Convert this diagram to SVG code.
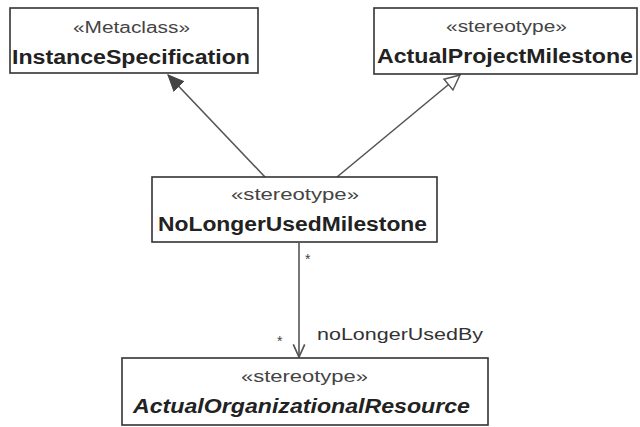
<svg xmlns="http://www.w3.org/2000/svg" width="640" height="427" viewBox="0 0 640 427">
<style>
.box{fill:#fff;stroke:#333;stroke-width:1.6}
.st{font-family:"Liberation Sans",Arial,sans-serif;font-size:16px;fill:#444;text-anchor:start}
.nm{font-family:"Liberation Sans",Arial,sans-serif;font-size:20px;font-weight:bold;fill:#222}
.it{font-style:italic}
.ln{stroke:#555;stroke-width:1.6;fill:none}
.lb{font-family:"Liberation Sans",Arial,sans-serif;font-size:17px;fill:#333}
.mul{font-family:"Liberation Sans",Arial,sans-serif;font-size:14px;fill:#444}
</style>
<defs>
<marker id="filled" markerUnits="userSpaceOnUse" markerWidth="20" markerHeight="20" refX="16" refY="8" orient="auto" viewBox="0 0 20 16">
<path d="M0,1 L16,8 L0,15 Z" fill="#444" stroke="#444" stroke-width="1"/>
</marker>
<marker id="hollow" markerUnits="userSpaceOnUse" markerWidth="20" markerHeight="20" refX="16" refY="8" orient="auto" viewBox="0 0 20 16">
<path d="M1,1 L16,8 L1,15 Z" fill="#fff" stroke="#555" stroke-width="1.5"/>
</marker>
<marker id="open" markerUnits="userSpaceOnUse" markerWidth="16" markerHeight="16" refX="12" refY="6" orient="auto" viewBox="0 0 14 12">
<path d="M1,1 L12,6 L1,11" fill="none" stroke="#555" stroke-width="1.5"/>
</marker>
</defs>
<g id="connectors">
<line class="ln" x1="265" y1="177" x2="168" y2="75" marker-end="url(#filled)"/>
<line class="ln" x1="337" y1="177" x2="460" y2="75" marker-end="url(#hollow)"/>
<line class="ln" x1="299" y1="243" x2="299" y2="357" marker-end="url(#open)"/>
<text class="mul" x="305" y="264">*</text>
<text class="mul" x="277" y="346">*</text>
<text class="lb" x="317" y="340" textLength="166" lengthAdjust="spacingAndGlyphs">noLongerUsedBy</text>
</g>
<g id="InstanceSpecification">
<rect class="box" x="10" y="8" width="248" height="65"/>
<text class="st" x="73" y="33" textLength="117" lengthAdjust="spacingAndGlyphs">«Metaclass»</text>
<text class="nm" x="12" y="64" textLength="238" lengthAdjust="spacingAndGlyphs">InstanceSpecification</text>
</g>
<g id="ActualProjectMilestone">
<rect class="box" x="374" y="8" width="263" height="66"/>
<text class="st" x="446" y="32" textLength="121" lengthAdjust="spacingAndGlyphs">«stereotype»</text>
<text class="nm" x="377" y="63" textLength="256" lengthAdjust="spacingAndGlyphs">ActualProjectMilestone</text>
</g>
<g id="NoLongerUsedMilestone">
<rect class="box" x="152" y="177" width="285" height="65"/>
<text class="st" x="231" y="200" textLength="128" lengthAdjust="spacingAndGlyphs">«stereotype»</text>
<text class="nm" x="158" y="231" textLength="269" lengthAdjust="spacingAndGlyphs">NoLongerUsedMilestone</text>
</g>
<g id="ActualOrganizationalResource">
<rect class="box" x="122" y="358" width="366" height="67"/>
<text class="st" x="241" y="382" textLength="127" lengthAdjust="spacingAndGlyphs">«stereotype»</text>
<text class="nm it" x="133" y="413" textLength="337" lengthAdjust="spacingAndGlyphs">ActualOrganizationalResource</text>
</g>
</svg>
